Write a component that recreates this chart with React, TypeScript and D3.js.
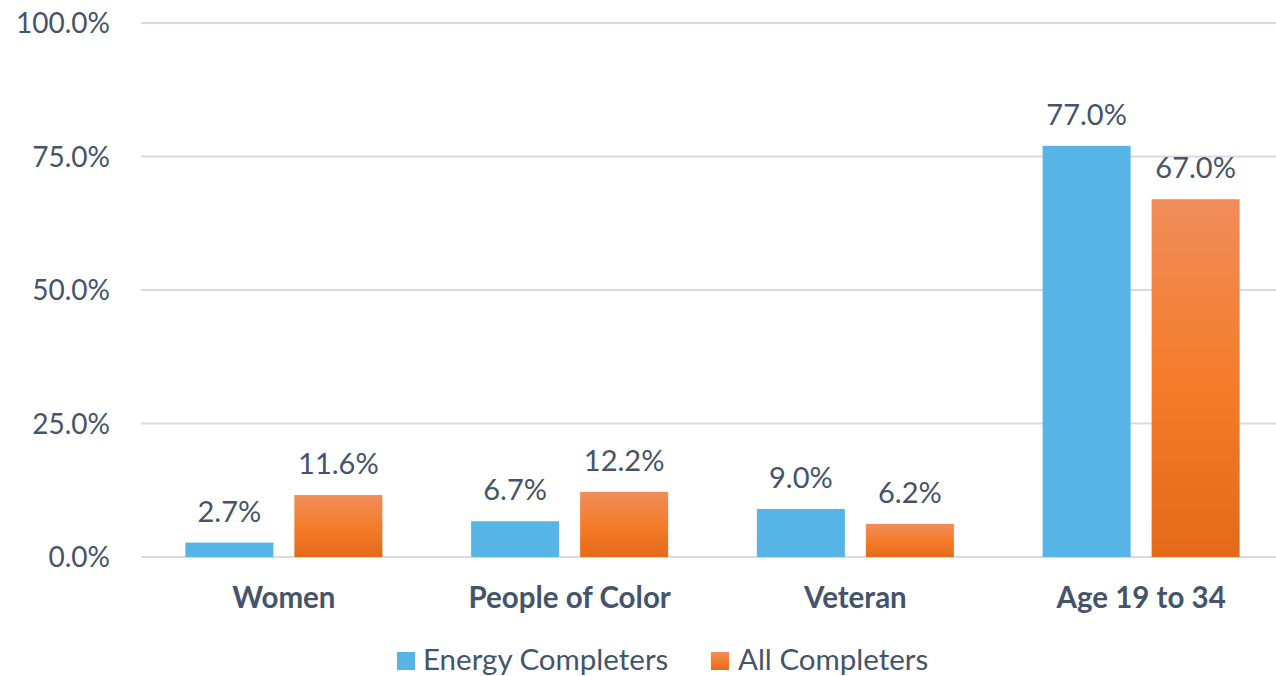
import React from "react";
import * as d3 from "d3";

const categories = ["Women", "People of Color", "Veteran", "Age 19 to 34"];
const energyCompleters = [2.7, 6.7, 9.0, 77.0];
const allCompleters = [11.6, 12.2, 6.2, 67.0];
const seriesNames = ["Energy Completers", "All Completers"];
const yTicks = [0, 25, 50, 75, 100];

const W = 1276;
const H = 676;
const FONT = "Lato, 'Open Sans', sans-serif";
const TEXT = "#44546A";
const BLUE = "#56B5E6";

export default function App() {
  const x = d3.scaleBand<string>().domain(categories).range([141, 1284]).paddingInner(0).paddingOuter(0);
  const y = d3.scaleLinear().domain([0, 100]).range([557, 23]);
  const barW = 88;
  const gap = 21;
  const series = [energyCompleters, allCompleters];
  const fills = [BLUE, "url(#orangeGrad)"];

  return (
    <svg width={W} height={H} style={{ position: "absolute", left: 0, top: 0 }} fontFamily={FONT}>
      <defs>
        <linearGradient id="orangeGrad" x1="0" y1="0" x2="0" y2="1">
          <stop offset="0%" stopColor="#F08D5A" />
          <stop offset="50%" stopColor="#F47C2B" />
          <stop offset="100%" stopColor="#E36A18" />
        </linearGradient>
      </defs>
      <rect x={0} y={0} width={W} height={H} fill="#fff" />
      {yTicks.map((t) => (
        <g key={t}>
          <line x1={141} x2={1276} y1={y(t)} y2={y(t)} stroke="#D9D9E3" strokeWidth={2} />
          <text x={110} y={y(t)} dy="0.36em" textAnchor="end" fontSize={28} fill={TEXT}>
            {d3.format(".1f")(t)}%
          </text>
        </g>
      ))}
      {categories.map((c, i) => {
        const cx = (x(c) as number) + x.bandwidth() / 2;
        return (
          <g key={c}>
            {series.map((s, j) => {
              const bx = j === 0 ? cx - gap / 2 - barW : cx + gap / 2;
              const v = s[i];
              return (
                <g key={j}>
                  <rect x={bx} y={y(v)} width={barW} height={y(0) - y(v)} fill={fills[j]} />
                  <text x={bx + barW / 2} y={y(v) - 21} textAnchor="middle" fontSize={29} fill={TEXT}>
                    {d3.format(".1f")(v)}%
                  </text>
                </g>
              );
            })}
            <text x={cx} y={608} textAnchor="middle" fontSize={29.5} fontWeight="bold" fill={TEXT}>
              {c}
            </text>
          </g>
        );
      })}
      <g>
        <rect x={397} y={652} width={18} height={18} fill={BLUE} />
        <text x={423} y={670} fontSize={29.5} fill={TEXT}>{seriesNames[0]}</text>
        <rect x={711} y={652} width={18} height={18} fill="url(#orangeGrad)" />
        <text x={738} y={670} fontSize={29.5} fill={TEXT}>{seriesNames[1]}</text>
      </g>
    </svg>
  );
}
